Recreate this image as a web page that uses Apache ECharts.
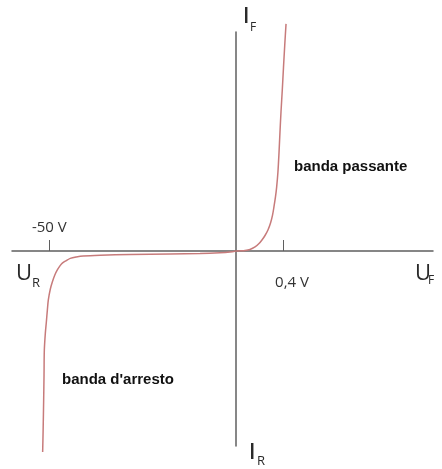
<!DOCTYPE html>
<html>
<head>
<meta charset="utf-8">
<script src="https://cdn.jsdelivr.net/npm/echarts@6/dist/echarts.min.js"></script>
<style>
  html, body { margin: 0; padding: 0; background: #ffffff; }
  #chart { width: 442px; height: 469px; }
</style>
</head>
<body>
<div id="chart"></div>
<script>
// Diode characteristic: forward branch (V, mA) and reverse branch (V, µA)
const fwdV = [0, 0.034, 0.077, 0.119, 0.162, 0.196, 0.221, 0.247, 0.272, 0.294, 0.311, 0.323, 0.336,
              0.346, 0.357, 0.366, 0.374, 0.383, 0.394, 0.404, 0.415, 0.426];
const fwdI = [0, 0.09, 0.23, 0.68, 1.83, 3.42, 5.02, 7.08, 9.59, 12.8, 16.4, 20.1, 24.7,
              29.2, 36.1, 44.7, 53.9, 63.5, 73.5, 83.6, 94.1, 103.7];
const revV = [-51.79, -51.66, -51.52, -51.42, -51.34, -51.07, -50.80, -50.53, -50.27, -49.73, -49.20,
              -48.53, -47.86, -47.06, -46.52, -45.45, -44.39, -42.78, -40.91, -36.36, -28.34,
              -17.65, -9.63, -4.28, -1.60, 0];
const revI = [-103.1, -91.8, -76.4, -63.6, -50.8, -42.1, -36.4, -30.3, -25.1, -19.5, -15.9,
              -12.3, -9.7, -7.4, -6.2, -4.9, -3.8, -3.1, -2.6, -2.2, -1.8,
              -1.5, -1.3, -0.9, -0.5, 0];

// Tick marks on the voltage axis
const revTickValues = [-50];
const revTickLabels = ['-50 V'];
const fwdTickValues = [0.4];
const fwdTickLabels = ['0,4 V'];

// Region captions
const fwdCaption = 'banda passante';
const revCaption = 'banda d\'arresto';

const AXIS_COLOR = '#5f5f5f';
const CURVE_COLOR = '#c77b7b';
const LABEL_FONT = '"Open Sans", "DejaVu Sans", sans-serif';

const chart = echarts.init(document.getElementById('chart'), null, { renderer: 'canvas' });

const plainAxis = {
  splitLine: { show: false },
  axisLabel: { show: false },
  axisTick: { show: false },
  axisLine: { show: true, onZero: false, lineStyle: { color: AXIS_COLOR, width: 1.5 } }
};

function pair(xs, ys) { return xs.map((x, i) => [x, ys[i]]); }

chart.setOption({
  backgroundColor: '#ffffff',
  animation: false,
  grid: [
    { left: 12, top: 251, width: 224, height: 195, outerBoundsMode: 'none', containLabel: false },
    { left: 236, top: 32, width: 197, height: 219, outerBoundsMode: 'none', containLabel: false }
  ],
  xAxis: [
    Object.assign({}, plainAxis, {
      type: 'value', gridIndex: 0, position: 'top', min: -60, max: 0,
      axisTick: { show: true, length: 11, lineStyle: { color: AXIS_COLOR, width: 1 }, customValues: revTickValues },
      axisLabel: {
        show: true, customValues: revTickValues, margin: 16,
        color: '#333', fontSize: 15, fontFamily: LABEL_FONT,
        formatter: v => revTickLabels[revTickValues.indexOf(v)] || ''
      }
    }),
    Object.assign({}, plainAxis, {
      type: 'value', gridIndex: 1, position: 'bottom', min: 0, max: 1.677,
      axisTick: { show: true, inside: true, length: 11, lineStyle: { color: AXIS_COLOR, width: 1 }, customValues: fwdTickValues },
      axisLabel: {
        show: true, customValues: fwdTickValues, margin: 24,
        color: '#333', fontSize: 15, fontFamily: LABEL_FONT,
        padding: [0, 0, 0, 18],
        formatter: v => fwdTickLabels[fwdTickValues.indexOf(v)] || ''
      }
    })
  ],
  yAxis: [
    Object.assign({}, plainAxis, { type: 'value', gridIndex: 0, position: 'right', min: -100, max: 0 }),
    Object.assign({}, plainAxis, { type: 'value', gridIndex: 1, position: 'left', min: 0, max: 100 })
  ],
  series: [
    {
      type: 'line', xAxisIndex: 0, yAxisIndex: 0, data: pair(revV, revI),
      showSymbol: false, clip: false, smooth: 0.3,
      lineStyle: { color: CURVE_COLOR, width: 1.5 }
    },
    {
      type: 'line', xAxisIndex: 1, yAxisIndex: 1, data: pair(fwdV, fwdI),
      showSymbol: false, clip: false, smooth: 0.3,
      lineStyle: { color: CURVE_COLOR, width: 1.5 }
    }
  ],
  graphic: [
    // axis names with subscripts
    { type: 'text', left: 16, top: 263, style: { text: 'U', font: '22px ' + LABEL_FONT, fill: '#2a2a2a' } },
    { type: 'text', left: 32, top: 277, style: { text: 'R', font: '13px ' + LABEL_FONT, fill: '#2a2a2a' } },
    { type: 'text', left: 415, top: 263, style: { text: 'U', font: '22px ' + LABEL_FONT, fill: '#2a2a2a' } },
    { type: 'text', left: 428, top: 275, style: { text: 'F', font: '12px ' + LABEL_FONT, fill: '#2a2a2a' } },
    { type: 'text', left: 243, top: 7, style: { text: 'I', font: '600 21px ' + LABEL_FONT, fill: '#2a2a2a' } },
    { type: 'text', left: 250, top: 22, style: { text: 'F', font: '12px ' + LABEL_FONT, fill: '#2a2a2a' } },
    { type: 'text', left: 249, top: 443, style: { text: 'I', font: '600 21px ' + LABEL_FONT, fill: '#2a2a2a' } },
    { type: 'text', left: 257, top: 455, style: { text: 'R', font: '13px ' + LABEL_FONT, fill: '#2a2a2a' } },
    // region captions
    { type: 'text', left: 294, top: 159, style: { text: fwdCaption, font: 'bold 15px "Liberation Sans", Arial, sans-serif', fill: '#111' } },
    { type: 'text', left: 62, top: 372, style: { text: revCaption, font: 'bold 15px "Liberation Sans", Arial, sans-serif', fill: '#111' } }
  ]
});
</script>
</body>
</html>
